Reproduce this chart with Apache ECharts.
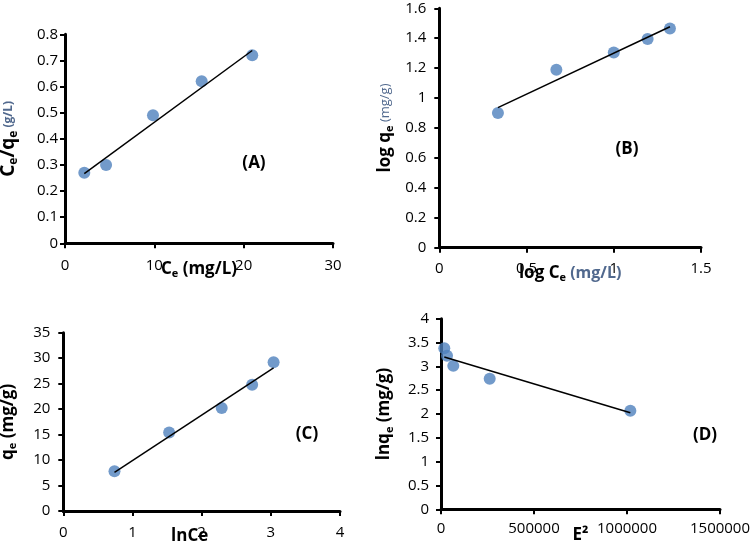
<!DOCTYPE html>
<html><head><meta charset="utf-8">
<script src="https://cdn.jsdelivr.net/npm/echarts/dist/echarts.min.js"></script>
<style>html,body{margin:0;padding:0;background:#fff}#c{width:752px;height:542px}</style>
</head><body><div id="c"></div>
<script>
// ---- Data ----
const xA = [2.16, 4.6, 9.85, 15.3, 20.96];
const yA = [0.27, 0.30, 0.49, 0.62, 0.72];
const fitAx = [2.16, 20.96];
const fitAy = [0.267, 0.738];

const xB = [0.336, 0.671, 1.0, 1.194, 1.322];
const yB = [0.90, 1.19, 1.305, 1.395, 1.465];
const fitBx = [0.336, 1.322];
const fitBy = [0.936, 1.477];

const xC = [0.74, 1.53, 2.29, 2.73, 3.04];
const yC = [7.8, 15.4, 20.2, 24.8, 29.2];
const fitCx = [0.74, 3.04];
const fitCy = [7.6, 28.1];

const xD = [17700, 32300, 66100, 261800, 1018000];
const yD = [3.38, 3.22, 3.01, 2.74, 2.07];
const fitDx = [17700, 1018000];
const fitDy = [3.196, 2.027];

// axis ranges [min, max, interval]
const xTicksA = [0, 30, 10],   yTicksA = [0, 0.8, 0.1];
const xTicksB = [0, 1.5, 0.5], yTicksB = [0, 1.6, 0.2];
const xTicksC = [0, 4, 1],     yTicksC = [0, 35, 5];
const xTicksD = [0, 1500000, 500000], yTicksD = [0, 4, 0.5];

const panelLabels = ['(A)', '(B)', '(C)', '(D)'];

// ---- styling ----
const FONT = 'Open Sans';
const BLUE = '#4f81bd';
const GREY = '#51698e';
const rich = {
  b: {fontFamily: FONT, fontWeight: 'bold', fontSize: 17, color: '#000', lineHeight: 21},
  B: {fontFamily: FONT, fontWeight: 'bold', fontSize: 19, color: '#000', lineHeight: 23},
  s: {fontFamily: FONT, fontWeight: 'bold', fontSize: 11, color: '#000', lineHeight: 11, verticalAlign: 'bottom'},
  S: {fontFamily: FONT, fontWeight: 'bold', fontSize: 12, color: '#000', lineHeight: 12, verticalAlign: 'bottom'},
  g: {fontFamily: FONT, fontWeight: 'bold', fontSize: 12, color: GREY, lineHeight: 21},
  g2: {fontFamily: FONT, fontWeight: 'normal', fontSize: 13, color: GREY, lineHeight: 21},
  gb: {fontFamily: FONT, fontWeight: 'bold', fontSize: 16, color: GREY, lineHeight: 21}
};
const fmt = v => String(+Number(v).toFixed(6));

const grids = [
  {left: 65, top: 34.3, width: 268, height: 209},
  {left: 439.3, top: 8.3, width: 261.7, height: 239.4},
  {left: 63.3, top: 332.7, width: 276.7, height: 178.3},
  {left: 441, top: 318.7, width: 279, height: 190.6}
];
const xNames = [
  '{b|C}{s|e}{b| (mg/L)}',
  '{b|log C}{s|e}{gb| (mg/L)}',
  '{b|lnCe}',
  '{b|E²}'
];
const yNames = [
  '{B|C}{S|e}{B|/q}{S|e}{g| (g/L)}',
  '{b|log q}{s|e}{g2| (mg/g)}',
  '{b|q}{s|e}{b| (mg/g)}',
  '{b|lnq}{s|e}{b| (mg/g)}'
];
const xTicks = [xTicksA, xTicksB, xTicksC, xTicksD];
const yTicks = [yTicksA, yTicksB, yTicksC, yTicksD];
const xMargins = [15, 14, 14, 12];
const yMargins = [7, 13, 13, 12];
const yNameGaps = [45, 44, 45, 46];
const xNamePad = [[0,0,0,0],[0,0,0,0],[0,24,0,0],[0,0,0,0]];
const pts = [[xA, yA], [xB, yB], [xC, yC], [xD, yD]];
const fits = [[fitAx, fitAy], [fitBx, fitBy], [fitCx, fitCy], [fitDx, fitDy]];
const labelPos = [[254, 163], [627, 149], [307, 434], [705, 435]];

const axisCommon = {
  axisLine: {show: true, onZero: false, lineStyle: {color: '#000', width: 3}},
  axisTick: {show: true, length: 5, lineStyle: {color: '#000', width: 2}},
  splitLine: {show: false},
  nameLocation: 'middle',
  nameMoveOverlap: false
};

const option = {
  animation: false,
  backgroundColor: '#fff',
  grid: grids.map(g => Object.assign({outerBoundsMode: 'none', containLabel: false}, g)),
  xAxis: grids.map((g, i) => Object.assign({}, axisCommon, {
    type: 'value', gridIndex: i,
    min: xTicks[i][0], max: xTicks[i][1], interval: xTicks[i][2],
    axisLabel: {color: '#000', fontSize: 15, fontFamily: FONT, margin: xMargins[i], formatter: fmt},
    name: xNames[i], nameGap: 15,
    nameTextStyle: {rich: rich, padding: xNamePad[i]}
  })),
  yAxis: grids.map((g, i) => Object.assign({}, axisCommon, {
    type: 'value', gridIndex: i,
    min: yTicks[i][0], max: yTicks[i][1], interval: yTicks[i][2],
    axisLabel: {color: '#000', fontSize: 15, fontFamily: FONT, margin: yMargins[i], formatter: fmt},
    name: yNames[i], nameGap: yNameGaps[i], nameRotate: 90,
    nameTextStyle: {rich: rich}
  })),
  series: [].concat(
    pts.map((p, i) => ({
      type: 'scatter', xAxisIndex: i, yAxisIndex: i, z: 2,
      symbol: 'circle', symbolSize: 12,
      itemStyle: {color: BLUE},
      data: p[0].map((x, k) => [x, p[1][k]])
    })),
    fits.map((f, i) => ({
      type: 'line', xAxisIndex: i, yAxisIndex: i, z: 3,
      showSymbol: false, symbol: 'none',
      lineStyle: {color: '#000', width: 1.5},
      data: f[0].map((x, k) => [x, f[1][k]])
    }))
  ),
  graphic: panelLabels.map((t, i) => ({
    type: 'text', x: labelPos[i][0], y: labelPos[i][1],
    style: {text: t, fontFamily: FONT, fontWeight: 'bold', fontSize: 17, fill: '#000',
            textAlign: 'center', textVerticalAlign: 'middle'}
  }))
};

const chart = echarts.init(document.getElementById('c'), null, {renderer: 'canvas'});
chart.setOption(option);
</script>
</body></html>
